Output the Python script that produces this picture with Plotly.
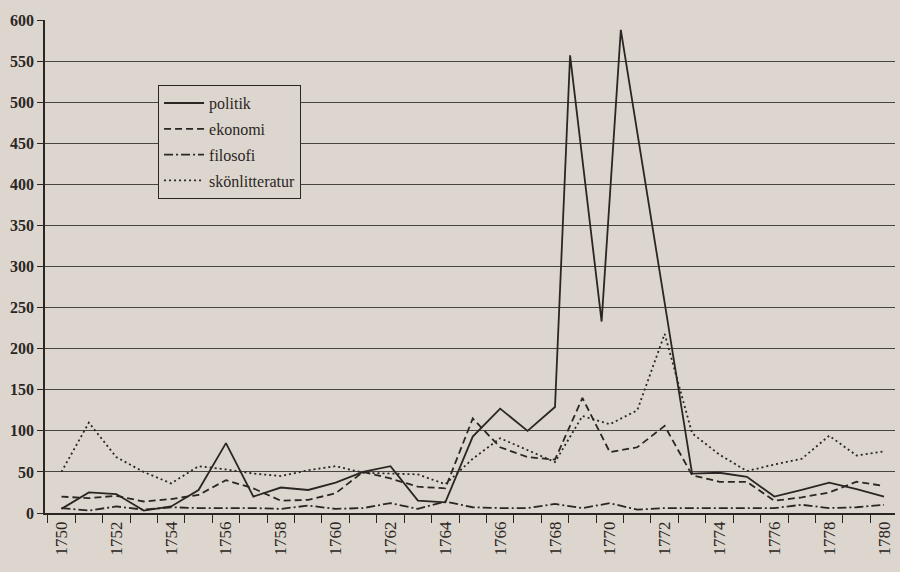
import plotly.graph_objects as go

# ---- data ----
years = list(range(1750, 1781))
politik_years = list(range(1750, 1769)) + [1768.55, 1769.7, 1770.4] + list(range(1773, 1781))
politik = [5, 25, 23, 3, 8, 28, 85, 20, 31, 28, 37, 50, 57, 15, 13, 93, 127, 100, 129,
           557, 233, 588,
           48, 49, 44, 20, 28, 37, 29, 20]
ekonomi = [20, 18, 21, 14, 17, 22, 40, 30, 15, 16,
           24, 50, 42, 32, 30, 115, 80, 68, 65, 140,
           74, 80, 106, 46, 38, 38, 15, 19, 25, 38,
           33]
filosofi = [6, 3, 8, 4, 7, 6, 6, 6, 5, 9,
            5, 6, 12, 5, 14, 7, 6, 6, 11, 6,
            12, 4, 6, 6, 6, 6, 6, 10, 6, 7,
            10]
skonlitteratur = [50, 110, 68, 50, 36, 57, 53, 48, 45, 52,
                  57, 49, 48, 47, 35, 66, 91, 76, 62, 118,
                  108, 125, 218, 97, 71, 51, 59, 66, 94, 70,
                  75]
x_ticks = list(range(1750, 1781, 2))
y_ticks = list(range(0, 601, 50))
y_grid = list(range(50, 551, 50))

INK = "#2b2624"
BG = "#ddd6ce"
FONT = "Liberation Serif"

fig = go.Figure()
series = [
    ("politik", politik_years, politik, "solid", "y"),
    ("ekonomi", years, ekonomi, "7px,4px", "y2"),
    ("filosofi", years, filosofi, "9px,3px,2px,3px", "y2"),
    ("skönlitteratur", years, skonlitteratur, "2px,3px", "y2"),
]
for name, xs, ys, dash, yax in series:
    fig.add_trace(go.Scatter(
        x=xs, y=ys, name=name, mode="lines", legendgroup=name, yaxis=yax,
        line=dict(color=INK, width=1.8, dash=dash),
    ))

fig.update_layout(
    width=900, height=572,
    paper_bgcolor=BG, plot_bgcolor=BG,
    margin=dict(l=45, r=5, t=20, b=59),
    font=dict(family=FONT, color=INK, size=15),
    showlegend=True,
    legend=dict(
        x=0.133, y=0.868, xanchor="left", yanchor="top",
        bgcolor=BG, bordercolor=INK, borderwidth=1,
        font=dict(family=FONT, size=16, color=INK),
        tracegroupgap=2, itemwidth=40,
    ),
    xaxis=dict(
        range=[1749.4, 1780.4],
        tickmode="array", tickvals=x_ticks, ticktext=[str(v) for v in x_ticks],
        tickangle=-90, ticks="",
        showgrid=False, zeroline=False,
        showline=True, linecolor=INK, linewidth=1.5,
        tickfont=dict(family=FONT, size=17, color=INK),
        minor=dict(tickmode="linear", tick0=1749.5, dtick=1, ticks="outside",
                   ticklen=8, tickcolor=INK, tickwidth=1.3, showgrid=False),
    ),
    yaxis=dict(
        range=[0, 600],
        tickmode="array", tickvals=y_ticks,
        ticks="outside", ticklen=6, tickcolor=INK, tickwidth=1.3,
        showgrid=False, zeroline=False,
        showline=True, linecolor=INK, linewidth=1.5,
        tickfont=dict(family=FONT, size=16, color=INK, weight="bold"),
    ),
    yaxis2=dict(
        range=[0, 600], overlaying="y", side="left", matches="y",
        tickmode="array", tickvals=y_grid,
        showgrid=True, gridcolor="#4a4440", gridwidth=1.2,
        showticklabels=False, ticks="", zeroline=False, showline=False,
    ),
)

fig.write_html(
    "out.html",
    config={"displayModeBar": False},
    post_script="document.body.style.margin='0';document.body.style.padding='0';",
)
